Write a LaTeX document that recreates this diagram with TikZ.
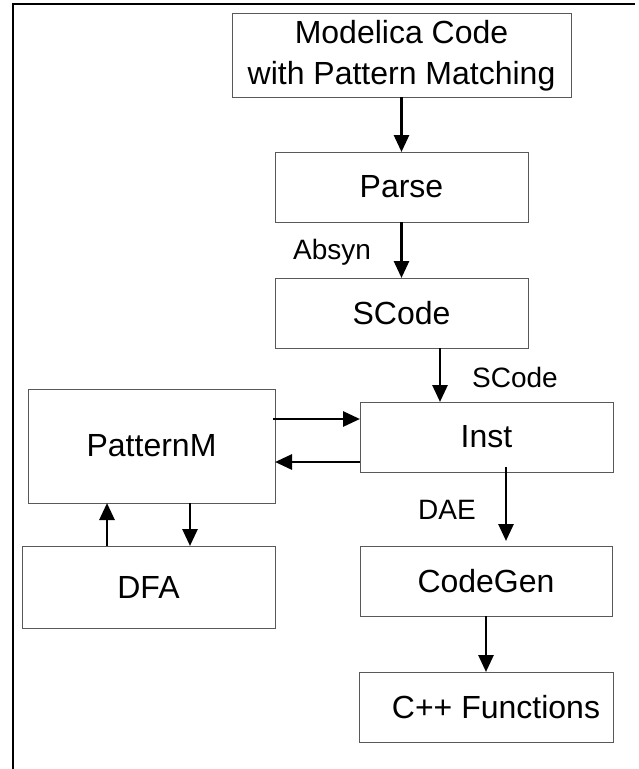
\documentclass[tikz,border=0pt]{standalone}
\usepackage{fontspec}
\setmainfont{Liberation Sans}
\usetikzlibrary{arrows.meta}
\begin{document}
\begin{tikzpicture}[x=1pt,y=-1pt,
  box/.style={draw=black!65,line width=0.9pt,fill=white,inner sep=0pt,outer sep=0pt,
    align=center,font=\fontsize{32}{43}\selectfont},
  lbl/.style={inner sep=0pt,font=\fontsize{28}{34}\selectfont},
  arr/.style={line width=2.8pt,-{Triangle[length=17pt,width=15pt]}},
  frame/.style={line width=1.2pt,black}]
\useasboundingbox (0,0) rectangle (639,769);
\draw[frame] (13,769) -- (13,4) -- (635,4);
\node[box,minimum width=339pt,minimum height=84pt] (mod) at (401.5,55) {\raisebox{-4pt}{\begin{tabular}{@{}c@{}}Modelica Code\\[-2pt]with Pattern Matching\end{tabular}}};
\node[box,minimum width=253pt,minimum height=70pt] (parse) at (401.5,187) {Parse};
\node[box,minimum width=253pt,minimum height=70pt] (scode) at (401.5,313) {SCode};
\node[box,minimum width=253pt,minimum height=70pt] (inst) at (486.5,437) {Inst};
\node[box,minimum width=247pt,minimum height=114pt] (pm) at (151.5,446) {PatternM};
\node[box,minimum width=253pt,minimum height=82pt] (dfa) at (148.5,587) {DFA};
\node[box,minimum width=252pt,minimum height=70pt] (cg) at (486,581) {CodeGen};
\node[box,minimum width=254pt,minimum height=70pt] (cpp) at (486,707) {\hspace*{20pt}C++ Functions};
\node[lbl] (labs) at (332,252) {Absyn};
\node[lbl] (lsc) at (515,377) {SCode};
\node[lbl] (ldae) at (447,510) {DAE};
\draw[arr] (mod.south) -- (parse.north);
\draw[arr] (parse.south) -- (scode.north);
\draw[arr] ([xshift=38.5pt]scode.south) -- ([xshift=38.5pt]scode.south |- inst.north);
\draw[arr] ([xshift=19.5pt,yshift=5pt]inst.south) -- ([xshift=19.5pt,yshift=5pt]inst.south |- cg.north);
\draw[arr] (cg.south) -- (cpp.north);
\draw[arr] ([xshift=-2pt,yshift=27pt]pm.east) -- ([yshift=27pt]pm.east -| inst.west);
\draw[arr] ([yshift=-25pt]inst.west) -- ([yshift=-25pt]inst.west -| pm.east);
\draw[arr] ([xshift=-41.5pt]dfa.north) -- ([xshift=-41.5pt]dfa.north |- pm.south);
\draw[arr] ([xshift=38.5pt]pm.south) -- ([xshift=38.5pt]pm.south |- dfa.north);
\end{tikzpicture}
\end{document}
